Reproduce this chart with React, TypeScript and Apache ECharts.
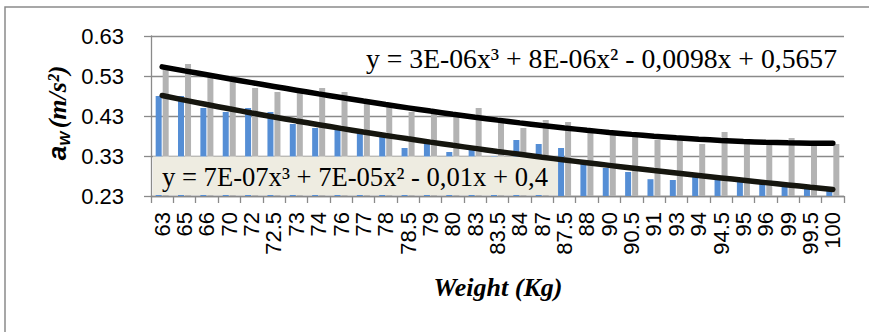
import React, { useEffect, useRef } from "react";
import * as echarts from "echarts";

const weights = ["63", "65", "66", "70", "72", "72.5", "73", "74", "76", "77", "78", "78.5", "79", "80", "83", "83.5", "84", "87", "87.5", "88", "90", "90.5", "91", "93", "94", "94.5", "95", "96", "99", "99.5", "100"];
const blueValues = [0.48, 0.48, 0.45, 0.44, 0.45, 0.44, 0.41, 0.40, 0.40, 0.39, 0.385, 0.35, 0.36, 0.34, 0.35, 0.33, 0.37, 0.36, 0.35, 0.31, 0.30, 0.29, 0.272, 0.27, 0.28, 0.275, 0.27, 0.265, 0.26, 0.252, 0.252];
const grayValues = [0.55, 0.56, 0.53, 0.52, 0.50, 0.49, 0.495, 0.50, 0.49, 0.465, 0.455, 0.44, 0.435, 0.43, 0.45, 0.42, 0.40, 0.42, 0.415, 0.39, 0.385, 0.38, 0.37, 0.37, 0.36, 0.39, 0.36, 0.36, 0.375, 0.36, 0.36];
const yMin = 0.23;
const yMax = 0.63;
const yStep = 0.1;
const eqUpper = "y = 3E-06x³ + 8E-06x² - 0,0098x + 0,5657";
const eqLower = "y = 7E-07x³ + 7E-05x² - 0,01x + 0,4";
const xTitle = "Weight (Kg)";

// cubic least-squares trendline (as Excel does, x = 1..n)
function polyFit(ys: number[], deg: number): number[] {
  const n = deg + 1;
  const A: number[][] = [];
  const b: number[] = [];
  for (let i = 0; i < n; i++) {
    A.push(new Array(n).fill(0));
    b.push(0);
  }
  ys.forEach((y, k) => {
    const x = k + 1;
    for (let i = 0; i < n; i++) {
      b[i] += y * Math.pow(x, i);
      for (let j = 0; j < n; j++) A[i][j] += Math.pow(x, i + j);
    }
  });
  for (let c = 0; c < n; c++) {
    let p = c;
    for (let r = c + 1; r < n; r++) if (Math.abs(A[r][c]) > Math.abs(A[p][c])) p = r;
    [A[c], A[p]] = [A[p], A[c]];
    [b[c], b[p]] = [b[p], b[c]];
    for (let r = c + 1; r < n; r++) {
      const f = A[r][c] / A[c][c];
      for (let j = c; j < n; j++) A[r][j] -= f * A[c][j];
      b[r] -= f * b[c];
    }
  }
  const coef = new Array(n).fill(0);
  for (let r = n - 1; r >= 0; r--) {
    let s = b[r];
    for (let j = r + 1; j < n; j++) s -= A[r][j] * coef[j];
    coef[r] = s / A[r][r];
  }
  return coef;
}
function trend(ys: number[]): number[] {
  const c = polyFit(ys, 3);
  return ys.map((_, k) => {
    const x = k + 1;
    return c[0] + c[1] * x + c[2] * x * x + c[3] * x * x * x;
  });
}

export default function App() {
  const ref = useRef<HTMLDivElement>(null);
  useEffect(() => {
    if (!ref.current) return;
    const chart = echarts.init(ref.current, undefined, { renderer: "svg" });
    const gridColor = "#8a8a8a";
    chart.setOption({
      animation: false,
      backgroundColor: "#ffffff",
      grid: { left: 151, right: 25, top: 36, bottom: 136, containLabel: false },
      xAxis: {
        type: "category",
        data: weights,
        boundaryGap: true,
        axisLine: { lineStyle: { color: gridColor, width: 1.3 } },
        axisTick: { show: true, length: 7, lineStyle: { color: gridColor, width: 1.3 } },
        axisLabel: {
          interval: 0,
          rotate: 90,
          margin: 16,
          fontSize: 22,
          color: "#000",
          fontFamily: "Liberation Sans",
        },
        splitLine: { show: false },
      },
      yAxis: {
        type: "value",
        min: yMin,
        max: yMax,
        interval: yStep,
        axisLine: { show: true, lineStyle: { color: gridColor, width: 1.3 } },
        axisTick: { show: true, length: 7, lineStyle: { color: gridColor, width: 1.3 } },
        axisLabel: {
          margin: 27,
          fontSize: 22,
          color: "#000",
          fontFamily: "Liberation Sans",
          formatter: (v: number) => v.toFixed(2),
        },
        splitLine: { show: true, lineStyle: { color: gridColor, width: 1.3 } },
      },
      series: [
        {
          type: "bar",
          data: blueValues,
          barWidth: 6,
          barGap: "17%",
          clip: true,
          itemStyle: { color: "#558ED5" },
          z: 2,
        },
        {
          type: "bar",
          data: grayValues,
          barWidth: 6,
          barGap: "17%",
          clip: true,
          itemStyle: { color: "#B3B3B3" },
          z: 2,
        },
        {
          type: "line",
          data: trend(grayValues),
          smooth: true,
          showSymbol: false,
          lineStyle: { color: "#000000", width: 5.5, cap: "round" },
          z: 20,
        },
        {
          type: "line",
          data: trend(blueValues),
          smooth: true,
          showSymbol: false,
          lineStyle: { color: "#16160f", width: 5.5, cap: "round" },
          z: 20,
        },
      ],
      graphic: [
        {
          type: "rect",
          silent: true,
          z: 1,
          shape: { x: 5, y: 7, width: 900, height: 400 },
          style: { fill: "none", stroke: "#8a8a8a", lineWidth: 1.5 },
        },
        {
          type: "rect",
          silent: true,
          z: 10,
          shape: { x: 153, y: 156.5, width: 405, height: 38.5 },
          style: { fill: "#EEECE1", stroke: "none" },
        },
        {
          type: "text",
          silent: true,
          z: 11,
          x: 162,
          y: 177,
          style: {
            text: eqLower,
            fontSize: 26.6,
            fontFamily: "Liberation Serif",
            fill: "#000",
            verticalAlign: "middle",
            align: "left",
          },
        },
        {
          type: "text",
          silent: true,
          z: 11,
          x: 366,
          y: 58,
          style: {
            text: eqUpper,
            fontSize: 27.7,
            fontFamily: "Liberation Serif",
            fill: "#000",
            verticalAlign: "middle",
            align: "left",
          },
        },
        {
          type: "text",
          silent: true,
          z: 11,
          x: 498,
          y: 287,
          style: {
            text: xTitle,
            fontSize: 26,
            fontWeight: "bold",
            fontStyle: "italic",
            fontFamily: "Liberation Serif",
            fill: "#000",
            verticalAlign: "middle",
            align: "center",
          },
        },
        {
          type: "text",
          silent: true,
          z: 11,
          x: 57,
          y: 113,
          rotation: Math.PI / 2,
          style: {
            text: "{a|a}{w|W} {u|(m/s²)}",
            align: "center",
            verticalAlign: "middle",
            rich: {
              a: { font: "italic bold 26px 'Liberation Sans'", fill: "#000", lineHeight: 30, verticalAlign: "middle" },
              w: { font: "italic bold 15px 'Liberation Sans'", fill: "#000", lineHeight: 30, verticalAlign: "bottom" },
              u: { font: "italic bold 26px 'Liberation Serif'", fill: "#000", lineHeight: 30, verticalAlign: "middle" },
            },
          },
        },
      ],
    });
    return () => chart.dispose();
  }, []);
  return (
    <div
      ref={ref}
      style={{ position: "fixed", left: 0, top: 0, width: 869, height: 332, background: "#fff" }}
    />
  );
}
